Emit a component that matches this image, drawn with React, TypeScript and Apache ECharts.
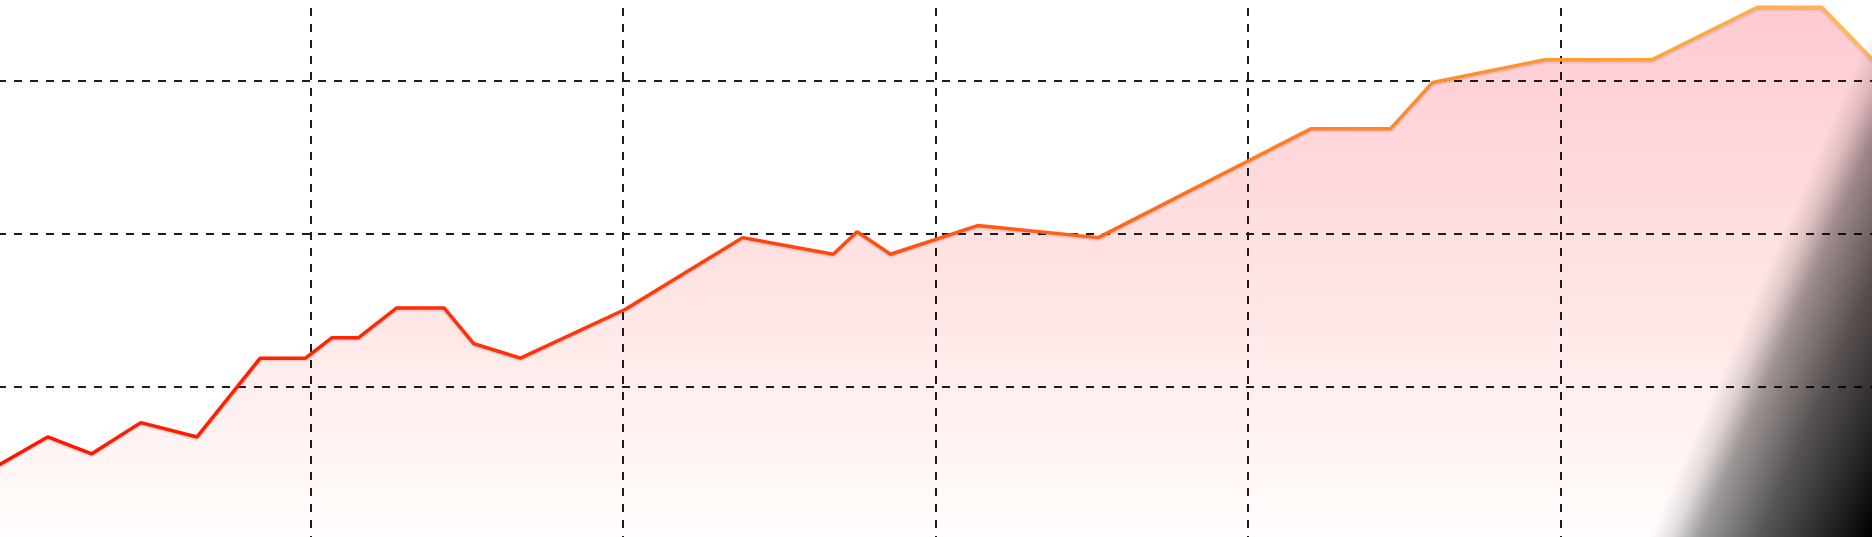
import React, { useEffect, useRef } from "react";
import * as echarts from "echarts";

// x positions (axis units, 0..60) and y values (axis units, 0..40)
const xValues = [
  0, 1.59, 3.0, 4.57, 6.37, 8.39, 9.84, 10.68, 11.53, 12.75, 14.28, 15.23, 16.72, 20.08,
  23.83, 26.73, 27.49, 28.56, 31.35, 35.21, 42.01, 44.56, 45.91, 49.5, 52.94, 56.3, 58.36, 60,
];
const yValues = [
  4.81, 6.68, 5.58, 7.62, 6.68, 11.84, 11.84, 13.17, 13.17, 15.12, 15.12, 12.78, 11.84, 15.04,
  19.73, 18.64, 20.12, 18.64, 20.52, 19.73, 26.85, 26.85, 29.89, 31.38, 31.38, 34.81, 34.81, 31.36,
];
const xRange = [0, 60];
const yRange = [0, 40];
const tickStep = 10;

// chart canvas is larger than the visible window and shifted (the view is a crop)
const OFF_X = 2;
const OFF_Y = 72;

export default function App() {
  const ref = useRef<HTMLDivElement>(null);
  useEffect(() => {
    document.body.style.margin = "0";
    document.body.style.overflow = "hidden";
    if (!ref.current) return;
    const chart = echarts.init(ref.current, undefined, { renderer: "svg" });
    const data = xValues.map((x, i) => [x, yValues[i]]);
    const splitLine = {
      show: true,
      showMinLine: false,
      showMaxLine: false,
      lineStyle: { color: "#1c1c1c", width: 2, type: [8, 8] },
    };
    const axisCommon = {
      type: "value",
      interval: tickStep,
      z: 5,
      axisLine: { show: false },
      axisTick: { show: false },
      axisLabel: { show: false },
      splitLine,
    };
    chart.setOption({
      animation: false,
      backgroundColor: "#ffffff",
      grid: { left: 0, right: 0, top: 0, bottom: 0, containLabel: false },
      xAxis: { ...axisCommon, min: xRange[0], max: xRange[1] },
      yAxis: { ...axisCommon, min: yRange[0], max: yRange[1] },
      series: [
        {
          type: "line",
          data,
          symbol: "none",
          z: 1,
          lineStyle: { width: 0, opacity: 0 },
          areaStyle: {
            opacity: 1,
            color: new echarts.graphic.LinearGradient(0, 0, 0, 1, [
              { offset: 0, color: "#ffcad2" },
              { offset: 0.5, color: "#fee3e2" },
              { offset: 1, color: "#fffdfc" },
            ]),
          },
        },
        {
          type: "line",
          data,
          symbol: "none",
          z: 10,
          lineStyle: {
            width: 3.5,
            shadowColor: "rgba(0,0,0,0.2)",
            shadowBlur: 2,
            shadowOffsetY: 1,
            color: new echarts.graphic.LinearGradient(0, 0, 1, 0, [
              { offset: 0, color: "#ff1400" },
              { offset: 0.35, color: "#ff3a0c" },
              { offset: 0.55, color: "#ff5c16" },
              { offset: 0.68, color: "#ff7c24" },
              { offset: 0.85, color: "#fd9c3a" },
              { offset: 1, color: "#fcbc58" },
            ]),
          },
        },
      ],
      graphic: [
        {
          type: "rect",
          z: 100,
          silent: true,
          shape: { x: 1500 + OFF_X, y: OFF_Y, width: 372, height: 537 },
          style: {
            fill: new echarts.graphic.LinearGradient(
              1650 + OFF_X,
              537 + OFF_Y,
              1836 + OFF_X,
              618 + OFF_Y,
              [
                { offset: 0, color: "rgba(0,0,0,0)" },
                { offset: 0.1, color: "rgba(0,0,0,0.12)" },
                { offset: 0.22, color: "rgba(0,0,0,0.38)" },
                { offset: 0.5, color: "rgba(0,0,0,0.66)" },
                { offset: 0.8, color: "rgba(0,0,0,0.86)" },
                { offset: 1, color: "rgba(0,0,0,1)" },
              ],
              true
            ),
          },
        },
      ],
    });
    return () => chart.dispose();
  }, []);
  return (
    <div style={{ position: "relative", width: 1872, height: 537, overflow: "hidden" }}>
      <div
        ref={ref}
        style={{ position: "absolute", left: -OFF_X, top: -OFF_Y, width: 1875, height: 611 }}
      />
    </div>
  );
}
